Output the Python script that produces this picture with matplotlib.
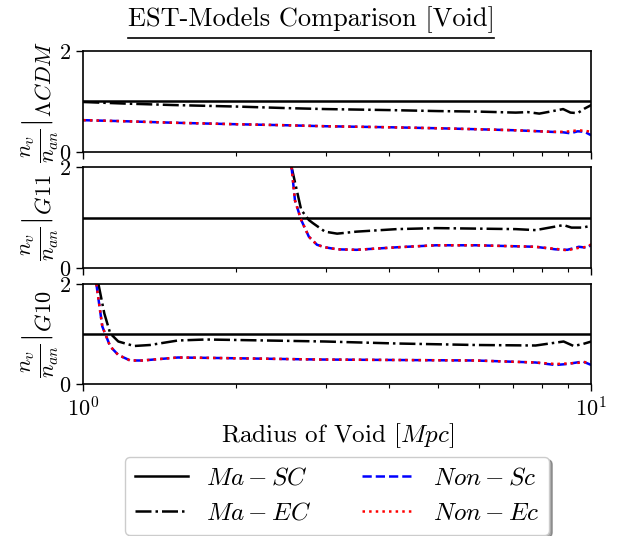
import numpy as np
import matplotlib
matplotlib.use("Agg")
import matplotlib.pyplot as plt
from matplotlib.lines import Line2D
from matplotlib.ticker import NullFormatter

plt.rcParams["font.family"] = "serif"
plt.rcParams["font.serif"] = ["cmr10"]
plt.rcParams["mathtext.fontset"] = "cm"
plt.rcParams["axes.unicode_minus"] = False
plt.rcParams["axes.formatter.use_mathtext"] = True

# Void-number ratios n_v / n_an for each gravity model
r_lcdm = [1.0, 1.2, 1.5, 2.0, 2.5, 3.0, 4.0, 5.0, 6.0, 7.1, 7.5, 7.9, 8.3, 8.8, 9.1, 9.4, 9.7, 10.0]
lcdm_ma_ec = [0.99, 0.96, 0.93, 0.90, 0.87, 0.85, 0.83, 0.81, 0.80, 0.78, 0.79, 0.76, 0.80, 0.85, 0.78, 0.77, 0.86, 0.93]
lcdm_non_sc = [0.63, 0.61, 0.58, 0.55, 0.53, 0.51, 0.49, 0.47, 0.45, 0.43, 0.42, 0.41, 0.40, 0.39, 0.37, 0.41, 0.40, 0.33]
lcdm_non_ec = [0.63, 0.61, 0.58, 0.55, 0.53, 0.51, 0.49, 0.47, 0.45, 0.43, 0.42, 0.41, 0.40, 0.40, 0.41, 0.43, 0.42, 0.40]

r_g11_ec = [2.57, 2.61, 2.685, 2.78, 2.83, 2.99, 3.16, 3.45, 4.14, 4.95, 5.93, 7.10, 7.77, 8.82, 9.14, 9.63, 10.0]
g11_ma_ec = [2.0, 1.70, 1.15, 0.95, 0.89, 0.72, 0.68, 0.72, 0.77, 0.79, 0.78, 0.77, 0.75, 0.85, 0.80, 0.80, 0.84]
r_g11_non = [2.57, 2.61, 2.685, 2.78, 2.884, 2.99, 3.16, 3.45, 4.14, 4.95, 5.93, 7.10, 7.77, 8.50, 8.97, 9.45, 9.82, 10.0]
g11_non_sc = [2.0, 1.34, 0.95, 0.62, 0.46, 0.41, 0.37, 0.36, 0.41, 0.45, 0.45, 0.43, 0.42, 0.37, 0.36, 0.42, 0.40, 0.46]
g11_non_ec = [2.0, 1.34, 0.95, 0.62, 0.46, 0.41, 0.37, 0.36, 0.41, 0.45, 0.45, 0.43, 0.42, 0.38, 0.35, 0.40, 0.42, 0.47]

r_g10_ec = [1.071, 1.10, 1.13, 1.172, 1.259, 1.353, 1.535, 1.742, 2.01, 2.99, 4.14, 5.93, 7.77, 8.82, 9.23, 9.63, 10.0]
g10_ma_ec = [2.0, 1.41, 1.01, 0.85, 0.76, 0.78, 0.87, 0.89, 0.88, 0.85, 0.81, 0.78, 0.77, 0.85, 0.76, 0.80, 0.85]
r_g10_non = [1.061, 1.09, 1.13, 1.172, 1.237, 1.306, 1.535, 1.84, 2.884, 4.14, 5.93, 7.77, 8.50, 8.97, 9.63, 10.0]
g10_non_sc = [2.0, 1.15, 0.75, 0.58, 0.47, 0.47, 0.53, 0.52, 0.49, 0.48, 0.47, 0.43, 0.38, 0.40, 0.45, 0.38]
g10_non_ec = [2.0, 1.15, 0.75, 0.58, 0.47, 0.47, 0.53, 0.52, 0.49, 0.48, 0.47, 0.43, 0.40, 0.41, 0.43, 0.45]

ma_sc_level = 1.0
x_range = [1.0, 10.0]

panels = [
    (r"$\frac{n_v}{n_{an}}|_{\Lambda CDM}$",
     (r_lcdm, lcdm_ma_ec), (r_lcdm, lcdm_non_sc), (r_lcdm, lcdm_non_ec)),
    (r"$\frac{n_v}{n_{an}}|_{G11}$",
     (r_g11_ec, g11_ma_ec), (r_g11_non, g11_non_sc), (r_g11_non, g11_non_ec)),
    (r"$\frac{n_v}{n_{an}}|_{G10}$",
     (r_g10_ec, g10_ma_ec), (r_g10_non, g10_non_sc), (r_g10_non, g10_non_ec)),
]

W, H = 622, 536
fig = plt.figure(figsize=(W / 100, H / 100), dpi=100)

left, right = 83.3 / W, 591.3 / W
tops = [51, 167, 284]
bottoms = [152, 268, 384]

lw = 1.8
axes = []
for i, (ylab, ec, nsc, nec) in enumerate(panels):
    ax = fig.add_axes([left, 1 - bottoms[i] / H, right - left, (bottoms[i] - tops[i]) / H])
    axes.append(ax)
    ax.plot(x_range, [ma_sc_level, ma_sc_level], color="black", ls="-", lw=lw, label=r"$Ma-SC$")
    ax.plot(ec[0], ec[1], color="black", ls="-.", lw=lw, label=r"$Ma-EC$")
    ax.plot(nsc[0], nsc[1], color="blue", ls="--", lw=lw, label=r"$Non-Sc$")
    ax.plot(nec[0], nec[1], color="red", ls=":", lw=lw, label=r"$Non-Ec$")
    ax.set_xscale("log")
    ax.set_xlim(1, 10)
    ax.set_ylim(0, 2)
    ax.set_yticks([0, 2])
    ax.xaxis.set_minor_formatter(NullFormatter())
    ax.set_ylabel(ylab, fontsize=23, labelpad=-1)
    ax.tick_params(axis="both", which="major", labelsize=16, length=5, width=1)
    ax.tick_params(axis="x", which="minor", length=3, width=0.8)
    for s in ax.spines.values():
        s.set_linewidth(1.2)
    if i < 2:
        ax.tick_params(axis="x", which="both", labelbottom=False)

axes[-1].set_xlabel(r"Radius of Void $[Mpc]$", fontsize=18, labelpad=1)

# underlined title
title = fig.text(0.5, 1 - 20 / H, "EST-Models Comparison [Void]", ha="center", va="center", fontsize=19)
fig.canvas.draw()
bb = title.get_window_extent().transformed(fig.transFigure.inverted())
fig.add_artist(Line2D([bb.x0, bb.x1], [1 - 38.5 / H, 1 - 38.5 / H], transform=fig.transFigure,
                      color="black", lw=1.2))

handles, labels = axes[0].get_legend_handles_labels()
fig.legend(handles, labels, ncol=2, loc="upper center",
           bbox_to_anchor=((left + right) / 2, 1 - 457 / H), borderaxespad=0,
           fontsize=18, handlelength=2.1, columnspacing=2.0, handletextpad=0.75,
           fancybox=True, shadow=True, frameon=True, borderpad=0.4, labelspacing=0.5)

fig.savefig("out.png", dpi=100)
